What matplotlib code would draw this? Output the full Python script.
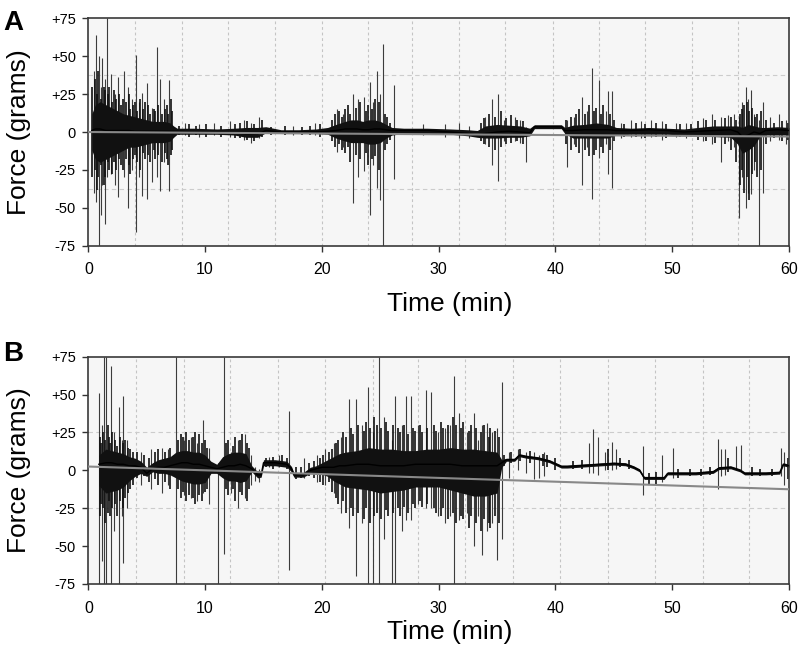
import numpy as np
import matplotlib
matplotlib.use("Agg")
import matplotlib.pyplot as plt

plt.rcParams['font.family'] = ['Liberation Sans', 'DejaVu Sans']

# ---- panel A : dense trace core (time in min, force in grams)
a_t = [0.3, 0.6, 1.0, 1.5, 2.0, 2.5, 3.0, 3.5, 4.0, 4.5,
       5.0, 5.5, 6.0, 6.5, 7.0, 7.3, 7.6, 9.0, 11.0, 12.5,
       13.5, 14.5, 15.2, 16.5, 18.0, 19.5, 20.5, 21.2, 22.0, 22.5,
       23.0, 23.5, 24.0, 24.5, 25.0, 25.5, 26.0, 27.0, 28.5, 29.0,
       31.0, 32.5, 33.3, 34.0, 35.0, 36.0, 37.0, 37.8, 38.2, 39.5,
       40.5, 40.8, 41.5, 42.5, 43.5, 44.5, 45.2, 46.5, 48.0, 49.5,
       51.0, 52.2, 53.5, 55.0, 55.6, 56.0, 56.5, 57.0, 57.5, 58.0,
       59.0, 60.0]
a_mid = [1, 2, 2, 1, 1, 1, 1, 1, 0.5, 0.5,
         0.5, 0.5, 0.5, 0.5, 0.5, 0.5, 0.5, 0, 0, -0.5,
         -1.5, -1.5, 1, 0, 0, 0, 0.5, 1, 2, 2,
         2, 1.5, 1.5, 2, 2, 1.5, 1, 1, 1, 1,
         0, -1, -2, -1, 0, 0.5, 0, -0.5, 3.5, 3.5,
         3.5, 1, 1, 1.5, 1.5, 1.5, 1, 1, 1.5, 1,
         0, 0.5, 1, 1.5, 0, -3, -2, 0, -1, 1,
         1.5, 1]
a_hi = [12, 18, 20, 18, 16, 14, 12, 11, 10, 9,
        8, 7, 7, 7, 6, 4, 2.5, 2.5, 2, 2.5,
        3, 3, 3.5, 1.5, 1.5, 2, 3, 5, 7, 8,
        8, 7, 8, 8, 7, 5, 3, 2.5, 2.5, 2.5,
        2, 1.5, 1, 4, 5, 4.5, 4, 2.5, 4.8, 4.8,
        4.8, 3, 4.5, 5, 6, 5, 3, 2.5, 3, 2.5,
        2, 3, 4, 4, 4, 3, 5, 4, 3, 3,
        3.5, 3]
a_lo = [-12, -18, -20, -18, -16, -14, -12, -10, -10, -9,
        -8, -7, -7, -7, -6, -3.5, -1.5, -1.5, -1.5, -2,
        -3.5, -3.5, -0.5, -1, -1, -1, -1.5, -4, -6, -7,
        -7, -7, -8, -8, -7, -4, -2, -1, -1, -1,
        -1.5, -2.5, -3.5, -4, -4, -3.5, -3.5, -2.5, 2.2, 2.2,
        2.2, -1, -4, -4, -4, -4, -2, -1.5, -1.5, -1.5,
        -2, -2, -3, -3.5, -8, -14, -12, -9, -3, -2,
        -2, -2]

# panel A: fringe of the dense bursts
a_tex_t = [0.35, 0.55, 0.75, 0.85, 1.1, 1.3, 1.45, 1.65, 1.8, 2.05,
           2.2, 2.4, 2.65, 2.8, 2.95, 3.2, 3.5, 3.6, 3.85, 4.0,
           4.2, 4.4, 4.7, 4.85, 5.15, 5.3, 5.6, 5.75, 6.0, 6.3,
           6.55, 6.7, 6.85, 7.05, 7.2,
           7.8, 8.6, 9.2, 10.1, 11.4, 12.6, 13.0, 13.6, 14.2, 14.9,
           15.6, 16.8, 18.3, 19.0, 19.8,
           20.9, 21.1, 21.5, 21.7, 22.0, 22.2, 22.4, 22.9, 23.3, 23.8,
           23.95, 24.25, 24.55, 24.85, 25.4, 25.6, 25.8,
           33.6, 33.9, 34.3, 34.8, 35.3, 35.8, 36.2, 36.7, 37.2,
           40.9, 41.3, 41.8, 42.0, 42.5, 42.9, 43.3, 43.5, 43.9, 44.1,
           44.7, 45.0,
           45.9, 46.9, 47.7, 48.6, 49.5, 50.7, 51.6, 52.2, 52.9, 53.7,
           54.5, 55.0,
           55.5, 55.8, 55.95, 56.15, 56.4, 56.6, 56.85, 57.1, 57.25, 57.6,
           58.0,
           58.7, 59.4, 59.9]
a_tex_hi = [30, 35, 25, 40, 22, 30, 28, 25, 30, 20,
            28, 22, 25, 18, 22, 20, 25, 15, 18, 20,
            14, 22, 15, 20, 18, 12, 15, 14, 18, 12,
            15, 18, 12, 22, 14,
            4, 5, 4, 5, 4, 5, 6, 7, 5, 8,
            3, 4, 3, 4, 5,
            8, 12, 14, 10, 15, 18, 12, 16, 20, 14,
            18, 15, 22, 20, 12, 10, 6,
            6, 9, 12, 10, 14, 9, 11, 8, 7,
            8, 10, 12, 15, 12, 18, 14, 16, 12, 18,
            12, 8,
            5, 6, 5, 6, 5, 5, 5, 7, 8, 8,
            9, 10,
            8, 12, 15, 18, 20, 14, 16, 10, 12, 14,
            8,
            6, 7, 6]
a_tex_lo = [-30, -25, -38, -30, -22, -35, -30, -20, -25, -28,
            -20, -25, -18, -22, -25, -18, -22, -28, -18, -15,
            -20, -25, -14, -18, -15, -20, -12, -18, -15, -20,
            -14, -18, -22, -15, -12,
            -2, -3, -2, -3, -3, -4, -4, -5, -6, -3,
            -2, -2, -2, -2, -3,
            -6, -10, -8, -12, -14, -10, -20, -15, -18, -14,
            -22, -18, -16, -25, -12, -8, -5,
            -6, -8, -10, -12, -10, -8, -7, -6, -8,
            -8, -12, -10, -14, -12, -16, -15, -12, -10, -14,
            -12, -6,
            -3, -3, -4, -3, -4, -3, -3, -5, -6, -7,
            -8, -12,
            -20, -35, -25, -40, -30, -45, -28, -20, -30, -25,
            -8,
            -4, -6, -5]

# panel A: tall spikes
a_spk_t = [0.45, 0.63, 0.92, 1.05, 1.2, 1.4, 1.57, 1.94, 2.3, 2.51,
           3.08, 3.37, 3.71, 4.06, 4.3, 4.57, 5.03, 5.43, 5.85, 6.14,
           6.45, 6.91, 8.3, 9.5, 10.8, 12.1, 13.3, 13.9, 14.6, 17.5,
           19.4, 21.3, 21.8, 22.7, 23.1, 23.6, 24.1, 24.4, 24.7, 25.0,
           25.2, 26.2, 28.7, 30.5, 31.7, 32.6, 34.0, 34.6, 35.1, 35.6,
           36.5, 37.0, 37.5, 41.0, 41.6, 42.3, 42.7, 43.1, 43.7, 44.3,
           44.5, 44.8, 45.6, 46.5, 47.3, 48.2, 49.1, 50.3, 51.2, 52.6,
           53.4, 54.2, 54.8, 55.3, 55.7, 56.0, 56.3, 56.5, 56.7, 57.0,
           57.4, 57.8, 58.4, 59.1, 59.7]
a_spk_hi = [40, 64, 50, 30, 49, 35, 75, 38, 25, 36,
            40, 30, 22, 51, 20, 26, 32, 16, 56, 35,
            22, 34, 6, 5, 6, 7, 8, 6, 10, 4,
            6, 15, 12, 25, 22, 23, 33, 20, 40, 25,
            58, 31, 5, 5, 6, 4, 10, 22, 25, 8,
            10, 8, 3, 8, 10, 23, 14, 42, 34, 14,
            27, 27, 6, 8, 7, 8, 7, 6, 6, 9,
            12, 10, 11, 12, 10, 20, 30, 22, 28, 12,
            8, 20, 10, 12, 8]
a_spk_lo = [-40, -46, -75, -55, -35, -61, -30, -28, -35, -43,
            -30, -50, -25, -66, -30, -42, -44, -33, -30, -39,
            -20, -39, -2, -3, -2, -3, -5, -7, -4, -2,
            -2, -13, -10, -47, -30, -26, -55, -22, -37, -45,
            -75, -31, -2, -3, -4, -4, -8, -22, -32, -6,
            -6, -7, -20, -23, -8, -35, -10, -44, -17, -8,
            -28, -37, -4, -3, -4, -3, -5, -3, -4, -6,
            -8, -20, -6, -10, -57, -30, -50, -40, -41, -25,
            -75, -40, -6, -5, -8]

# ---- panel B : dense trace core
b_t = [0.9, 1.5, 2.0, 2.5, 3.0, 3.5, 4.0, 4.5, 5.0, 5.5,
       6.0, 6.5, 7.0, 7.5, 8.0, 8.5, 9.0, 9.5, 10.0, 10.5,
       11.0, 11.5, 12.0, 12.5, 13.0, 13.5, 14.0, 14.5, 14.8, 15.0,
       16.0, 17.0, 17.4, 17.6, 18.4, 19.0, 19.5, 20.0, 20.5, 21.0,
       21.5, 22.0, 23.0, 24.0, 25.0, 26.0, 27.0, 28.0, 29.0, 30.0,
       31.0, 32.0, 33.0, 34.0, 35.0, 35.4, 35.8, 36.5, 36.9, 37.5,
       38.5, 39.5, 40.5, 41.0, 42.0, 43.0, 44.0, 45.0, 46.0, 46.7,
       47.2, 47.6, 49.3, 49.6, 50.5, 52.0, 53.5, 54.0, 55.0, 55.8,
       56.2, 58.0, 59.2, 59.5, 60.0]
b_mid = [4, 5, 5, 4, 4, 3, 3, 2, -2, 1,
         2, 2, 3, 4, 5, 5, 4, 4, 3, 2,
         1, 2, 3, 3, 4, 3, 1, -3, -3, 5,
         5, 4, 1, -3, -3, 0, 1, 2, 2, 2,
         3, 3, 4, 4, 3, 3, 3, 4, 4, 4,
         4, 3, 3, 3, 3, 5, 7, 7, 10, 9,
         8, 6, 2.5, 2.5, 3, 3.5, 4, 4.5, 4, 2,
         0, -5, -5, -2, -2, -2, -1, 1.5, 2, 0,
         -2, -2, -1.5, 4, 3]
b_hi = [10, 14, 13, 12, 11, 9, 8, 6, 2, 5,
        7, 8, 9, 12, 13, 13, 12, 12, 10, 6,
        4, 9, 11, 12, 12, 11, 3, -1, -1.5, 7,
        7, 6, 2.5, -1.5, -1.5, 2, 3, 5, 7, 9,
        11, 12, 13, 15, 14, 14, 13, 13, 14, 14,
        15, 14, 14, 13, 12, 7, 8, 8, 11, 10,
        9, 7, 3.5, 3.5, 4, 4.5, 5, 5.5, 5, 3,
        1, -4, -4, -1, -1, -1, 0, 2.5, 3, 1,
        -1, -1, -0.5, 5, 4]
b_lo = [-10, -15, -14, -13, -11, -7, -4, -2, -4, -1,
        -2, -2, -3, -5, -7, -8, -9, -9, -8, -2,
        -2, -5, -7, -7, -8, -7, -1, -5, -4.5, 3,
        3, 2, -1, -4.5, -4.5, -2, -2, -2.5, -4, -7,
        -9, -11, -12, -13, -15, -14, -13, -11, -11, -11,
        -13, -15, -17, -17, -15, 2, 6, 6, 9, 8,
        7, 5, 1.5, 1.5, 2, 2.5, 3, 3.5, 3, 1,
        -1, -6, -6, -3, -3, -3, -2, 0.5, 1, -1,
        -3, -3, -2.5, 3, 2]

# panel B: fringe of the dense bursts
b_tex_t = [1.0, 1.1, 1.25, 1.45, 1.65, 1.75, 1.85, 2.05, 2.3, 2.45,
           2.7, 2.95, 3.15, 3.4, 3.6, 3.8,
           4.2, 4.8, 5.2, 5.7, 6.0, 6.6, 7.0,
           7.7, 7.9, 8.1, 8.4, 8.6, 9.0, 9.15, 9.5, 9.7, 10.0,
           10.2,
           11.8, 12.0, 12.4, 12.6, 13.0, 13.2, 13.6, 13.8,
           15.2, 15.8, 16.6, 17.0,
           17.8, 18.2, 18.9, 19.3, 19.8, 20.1, 20.6, 20.9,
           21.2, 21.4, 21.8, 22.1, 22.5, 22.7, 23.1, 23.6, 23.8, 24.1,
           24.5, 24.7, 25.1, 25.5, 25.7, 26.1, 26.5, 26.7, 27.0, 27.4,
           27.8, 28.0, 28.4, 28.6, 29.0, 29.6, 29.8, 30.2, 30.4, 30.8,
           31.2, 31.5, 31.9, 32.1, 32.6, 32.8, 33.2, 33.6, 33.9, 34.3,
           34.4, 34.8, 35.2,
           35.6, 36.2, 37.0, 37.8, 38.9, 39.3, 40.0, 41.5, 42.3, 44.5,
           45.5, 46.3, 48.0, 48.6, 50.5, 51.5, 52.5, 53.2, 54.8, 56.8,
           57.5, 58.5, 59.9]
b_tex_hi = [22, 18, 25, 20, 30, 22, 18, 25, 20, 16,
            22, 18, 20, 15, 14, 12,
            12, 10, 8, 12, 14, 12, 15,
            20, 24, 22, 25, 20, 22, 25, 24, 18, 20,
            15,
            18, 20, 16, 22, 20, 24, 18, 15,
            8, 9, 10, 8,
            2, 2, 5, 6, 8, 10, 12, 14,
            18, 20, 25, 22, 28, 24, 30, 26, 32, 28,
            35, 30, 28, 32, 26, 30, 28, 25, 30, 24,
            28, 26, 30, 25, 28, 30, 26, 32, 28, 30,
            35, 30, 28, 32, 26, 30, 28, 25, 30, 22,
            28, 26, 22,
            10, 12, 14, 13, 11, 10, 8, 6, 7, 14,
            8, 7, -2, -1, 1, 1, 1, 2, 8, 2,
            1, 1, 8]
b_tex_lo = [-30, -22, -25, -35, -28, -20, -30, -25, -22, -30,
            -20, -25, -18, -15, -12, -10,
            -5, -4, -8, -6, -10, -8, -12,
            -12, -18, -14, -20, -16, -18, -22, -16, -20, -14,
            -12,
            -12, -16, -12, -20, -14, -16, -20, -12,
            2, 1, 2, 1,
            -6, -5, -4, -5, -8, -10, -8, -14,
            -18, -22, -20, -28, -25, -30, -28, -32, -25, -35,
            -30, -28, -32, -26, -30, -28, -25, -30, -24, -28,
            -22, -25, -20, -24, -22, -25, -28, -30, -25, -32,
            -28, -35, -30, -32, -38, -30, -35, -40, -32, -35,
            -38, -30, -35,
            3, 5, 6, 5, 3, 2, 0, 1, 1, 0,
            2, 1, -9, -9, -5, -4, -4, -3, -1, -4,
            -4, -4, -6]

# panel B: tall spikes
b_spk_t = [0.92, 1.15, 1.35, 1.55, 1.93, 2.2, 2.6, 2.85, 3.0, 3.3,
           4.5, 5.4, 6.3, 6.8, 7.53, 8.2, 8.8, 9.3, 9.8, 10.3,
           11.1, 11.65, 12.2, 12.8, 13.4, 13.9, 14.3, 14.6, 15.5, 16.3,
           17.2, 18.5, 19.6, 20.3, 21.0, 21.6, 22.3, 22.9, 23.4, 23.95,
           24.35, 24.9, 25.3, 25.97, 26.3, 26.9, 27.2, 27.6, 28.2, 28.9,
           29.3, 29.9, 30.5, 31.0, 31.3, 31.7, 32.4, 33.0, 33.4, 33.75,
           34.1, 34.6, 35.0, 35.4, 36.0, 36.8, 37.5, 38.2, 38.6, 39.0,
           42.9, 43.2, 43.6, 44.2, 44.8, 45.2, 47.5, 49.1, 50.1, 53.9,
           54.2, 54.5, 55.5, 55.9, 59.3, 59.6]
b_spk_hi = [51, 30, 75, 75, 69, 25, 42, 20, 49, 20,
            12, 14, 15, 14, 75, 20, 22, 18, 33, 15,
            5, 75, 12, 20, 24, 10, 2, 1, 9, 10,
            39, 8, 10, 14, 18, 22, 47, 47, 30, 55,
            25, 75, 35, 20, 49, 30, 49, 49, 30, 53,
            52, 25, 28, 30, 62, 38, 25, 38, 20, 30,
            31, 25, 28, 58, 12, 14, 12, 12, 10, 12,
            18, 27, 22, 12, 19, 14, 16, 10, 15, 21,
            14, 14, 16, 17, 15, 12]
b_spk_lo = [-75, -60, -75, -75, -75, -40, -75, -30, -61, -25,
            -10, -12, -15, -10, -75, -16, -18, -20, -15, -22,
            -75, -55, -15, -25, -18, -10, -7, -8, 2, 2,
            -66, -5, -8, -10, -15, -28, -38, -70, -35, -75,
            -75, -75, -45, -75, -75, -40, -33, -33, -22, -25,
            -25, -30, -35, -30, -75, -33, -28, -50, -30, -56,
            -40, -35, -59, -45, -5, 0, -2, -6, -5, -4,
            -2, -2, -3, 0, 0, 1, -16, -8, -5, -12,
            -4, -3, 0, 0, -4, -10]

# fitted baseline drift
a_fit_t = [0, 60]
a_fit_y = [0, -3]
b_fit_t = [0, 60]
b_fit_y = [2.5, -12.5]

# grid positions
a_vgrid = [4.0, 8.0, 12.0, 16.0, 20.0, 23.95, 27.7, 31.7, 35.7, 39.8, 43.75, 47.7, 51.7, 55.65]
b_vgrid = [4.06, 8.15, 12.16, 16.25, 20.3, 24.35, 28.27, 32.27, 36.36, 40.37, 44.46, 48.5, 52.6, 56.6]
a_hgrid = [37.5, -37.5]
b_hgrid = [25, -25]

y_ticks = [75, 50, 25, 0, -25, -50, -75]
y_labels = ['+75', '+50', '+25', '0', '-25', '-50', '-75']
x_ticks = [0, 10, 20, 30, 40, 50, 60]


def draw_panel(ax, t, mid, hi, lo, tt, thi, tlo, st, shi, slo, ft, fy, vgrid, hgrid, xlab_y):
    ax.set_facecolor('#f6f6f6')
    for g in vgrid:
        ax.axvline(g, color='#c4c4c4', lw=0.8, ls=(0, (2.5, 2.5)), zorder=0.5)
    for g in hgrid:
        ax.axhline(g, color='#cccccc', lw=0.8, ls=(0, (4, 3)), zorder=0.5)
    # tall spikes, then the fringe, then the dense core
    ax.vlines(st, slo, shi, color='#3c3c3c', lw=0.8, zorder=1.5)
    ax.vlines(tt, tlo, thi, color='#111111', lw=1.2, zorder=1.8)
    ax.fill_between(t, lo, hi, color='#111111', lw=0, zorder=2)
    ax.plot(t, mid, color='black', lw=1.0, zorder=3)
    ax.plot(ft, fy, color='#888888', lw=1.5, zorder=4)

    ax.set_xlim(0, 60)
    ax.set_ylim(-75, 75)
    ax.set_yticks(y_ticks)
    ax.set_yticklabels(y_labels)
    ax.set_xticks(x_ticks)
    ax.tick_params(axis='y', length=4, width=1, pad=5, labelsize=10.5, color='#333333')
    ax.tick_params(axis='x', length=4, width=1, pad=8, labelsize=11.5, color='#333333')
    for s in ax.spines.values():
        s.set_color('#3a3a3a')
        s.set_linewidth(1.2)
    ax.set_xlabel('Time (min)', fontsize=19)
    ax.xaxis.set_label_coords(0.516, xlab_y)
    ax.set_ylabel('Force (grams)', fontsize=19)
    ax.yaxis.label.set_va('center')
    ax.yaxis.set_label_coords(-0.099, 0.5)


fig = plt.figure(figsize=(8, 6.49), dpi=100)
ax_a = fig.add_axes([0.1104, 0.6214, 0.8759, 0.3504])
ax_b = fig.add_axes([0.1104, 0.1002, 0.8759, 0.3502])

draw_panel(ax_a, a_t, a_mid, a_hi, a_lo, a_tex_t, a_tex_hi, a_tex_lo,
           a_spk_t, a_spk_hi, a_spk_lo, a_fit_t, a_fit_y, a_vgrid, a_hgrid, -0.205)
draw_panel(ax_b, b_t, b_mid, b_hi, b_lo, b_tex_t, b_tex_hi, b_tex_lo,
           b_spk_t, b_spk_hi, b_spk_lo, b_fit_t, b_fit_y, b_vgrid, b_hgrid, -0.158)

fig.text(13 / 800, 1 - 22.5 / 649, 'A', fontsize=20, fontweight='bold', ha='center', va='center')
fig.text(13 / 800, 1 - 354 / 649, 'B', fontsize=20, fontweight='bold', ha='center', va='center')

fig.savefig('out.png', dpi=100, facecolor='white')
